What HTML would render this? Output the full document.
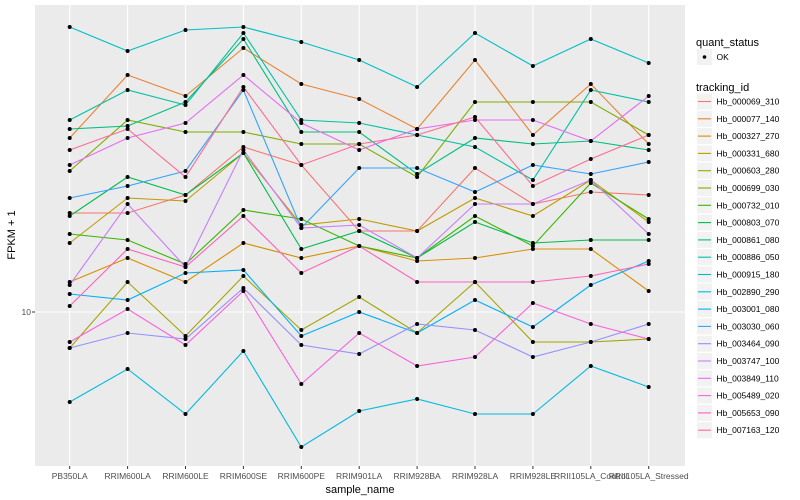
<!DOCTYPE html>
<html><head><meta charset="utf-8"><style>
body{margin:0;background:#fff;}
svg{display:block;font-family:"Liberation Sans",sans-serif;}
</style></head><body>
<svg id="chart" width="800" height="500"></svg>
<script>
const categories=["PB350LA","RRIM600LA","RRIM600LE","RRIM600SE","RRIM600PE","RRIM901LA","RRIM928BA","RRIM928LA","RRIM928LE","RRII105LA_Control","RRII105LA_Stressed"];
const seriesNames=["Hb_000069_310","Hb_000077_140","Hb_000327_270","Hb_000331_680","Hb_000603_280","Hb_000699_030","Hb_000732_010","Hb_000803_070","Hb_000861_080","Hb_000886_050","Hb_000915_180","Hb_002890_290","Hb_003001_080","Hb_003030_060","Hb_003464_090","Hb_003747_100","Hb_003849_110","Hb_005489_020","Hb_005653_090","Hb_007163_120"];
const seriesColors=["#F8766D","#EA8331","#D89000","#C09B00","#A3A500","#7CAE00","#39B600","#00BB4E","#00BF7D","#00C1A3","#00BFC4","#00BAE0","#00B0F6","#35A2FF","#9590FF","#C77CFF","#E76BF3","#FA62DB","#FF62BC","#FF6C91"];
// log10(FPKM + 1) values
const s069_310=[1.33,1.33,1.39,1.55,1.49,1.27,1.27,1.48,1.36,1.40,1.39];
const s077_140=[1.58,1.79,1.72,1.88,1.76,1.71,1.61,1.84,1.59,1.76,1.56];
const s327_270=[1.10,1.18,1.10,1.23,1.18,1.22,1.17,1.18,1.21,1.21,1.07];
const s331_680=[1.23,1.38,1.37,1.53,1.29,1.31,1.27,1.38,1.32,1.44,1.30];
const s603_280=[0.88,1.10,0.92,1.12,0.94,1.05,0.93,1.10,0.90,0.90,0.91];
const s699_030=[1.47,1.64,1.60,1.60,1.56,1.56,1.45,1.70,1.70,1.70,1.59];
const s732_010=[1.26,1.24,1.16,1.34,1.31,1.22,1.18,1.32,1.22,1.43,1.31];
const s803_070=[1.32,1.45,1.39,1.53,1.21,1.27,1.18,1.30,1.23,1.24,1.24];
const s861_080=[1.61,1.62,1.70,1.91,1.60,1.60,1.46,1.58,1.56,1.57,1.54];
const s886_050=[1.64,1.74,1.69,1.93,1.64,1.63,1.59,1.55,1.44,1.74,1.70];
const s915_180=[1.95,1.87,1.94,1.95,1.90,1.84,1.75,1.93,1.82,1.91,1.83];
const s2890_290=[0.70,0.81,0.66,0.87,0.55,0.67,0.71,0.66,0.66,0.82,0.75];
const s3001_080=[1.06,1.04,1.13,1.14,0.92,1.00,0.93,1.04,0.95,1.09,1.17];
const s3030_060=[1.38,1.42,1.47,1.74,1.28,1.48,1.48,1.40,1.49,1.46,1.50];
const s3464_090=[0.88,0.93,0.91,1.08,0.89,0.86,0.96,0.94,0.85,0.90,0.96];
const s3747_100=[1.09,1.36,1.15,1.54,1.28,1.29,1.18,1.36,1.36,1.44,1.26];
const s3849_110=[1.49,1.58,1.63,1.79,1.63,1.54,1.61,1.64,1.64,1.57,1.72];
const s5489_020=[0.90,1.01,0.89,1.07,0.76,0.93,0.82,0.85,1.03,0.96,0.91];
const s5653_090=[1.02,1.21,1.15,1.32,1.13,1.22,1.10,1.10,1.10,1.12,1.16];
const s7163_120=[1.54,1.61,1.45,1.75,1.49,1.56,1.59,1.65,1.42,1.51,1.59];
const seriesValues=[s069_310,s077_140,s327_270,s331_680,s603_280,s699_030,s732_010,s803_070,s861_080,s886_050,s915_180,s2890_290,s3001_080,s3030_060,s3464_090,s3747_100,s3849_110,s5489_020,s5653_090,s7163_120];
const yTickValues=[1];
const yTickLabels=["10"];

const NS="http://www.w3.org/2000/svg";
const svg=document.getElementById("chart");
const P={l:35,r:685,t:5,b:466};
function xPos(i){return 69.7+i*57.9;}
function yPos(v){return 312-(v-1)*300;}
function mk(tag,attrs,parent){const e=document.createElementNS(NS,tag);for(const k in attrs)e.setAttribute(k,attrs[k]);(parent||svg).appendChild(e);return e;}

const panel=mk("rect",{x:P.l,y:P.t,width:P.r-P.l,height:P.b-P.t,fill:"#EBEBEB"});



yTickValues.forEach((v,i)=>{
  const g=mk("line",{x1:P.l,x2:P.r,y1:yPos(v),y2:yPos(v),stroke:"#fff","stroke-width":1.1});
  
  
  const tk=mk("line",{x1:P.l-3,x2:P.l,y1:yPos(v),y2:yPos(v),stroke:"#333","stroke-width":1});
  
  
  const t=mk("text",{x:P.l-4,y:yPos(v)+3,"text-anchor":"end","font-size":"8.5",fill:"#4d4d4d"});
  t.textContent=yTickLabels[i];
  
  
});
categories.forEach((c,i)=>{
  const g=mk("line",{x1:xPos(i),x2:xPos(i),y1:P.t,y2:P.b,stroke:"#fff","stroke-width":1.1});
  
  
  const tk=mk("line",{x1:xPos(i),x2:xPos(i),y1:P.b,y2:P.b+3,stroke:"#333","stroke-width":1});
  
  
  const t=mk("text",{x:xPos(i),y:479,"text-anchor":"middle","font-size":"8.5",fill:"#4d4d4d"});
  t.textContent=c;
  
  
});

seriesValues.forEach((vals,s)=>{
  const d=vals.map((v,i)=>(i?"L":"M")+xPos(i).toFixed(1)+","+yPos(v).toFixed(1)).join(" ");
  const p=mk("path",{d:d,fill:"none",stroke:seriesColors[s],"stroke-width":1.1});
  
  
});
seriesValues.forEach((vals,s)=>{
  vals.forEach((v,i)=>{
    const c=mk("circle",{cx:xPos(i),cy:yPos(v),r:2,fill:"#000"});
    
    
  });
});

const xt=mk("text",{x:360,y:493,"text-anchor":"middle","font-size":"11",fill:"#000"});
xt.textContent="sample_name";


const yt=mk("text",{x:15,y:235,"text-anchor":"middle","font-size":"11",fill:"#000",transform:"rotate(-90 15 235)"});
yt.textContent="FPKM + 1";



const qt=mk("text",{x:696,y:46,"font-size":"11",fill:"#000"});
qt.textContent="quant_status";


const okBox=mk("rect",{x:697,y:49,width:15,height:16,fill:"#F2F2F2"});


const okDot=mk("circle",{cx:704.5,cy:57,r:1.8,fill:"#000"});


const okT=mk("text",{x:716.5,y:60,"font-size":"8.5",fill:"#000"});
okT.textContent="OK";



const tt=mk("text",{x:696,y:91,"font-size":"11",fill:"#000"});
tt.textContent="tracking_id";


seriesNames.forEach((n,s)=>{
  const cy=101.5+s*17.3;
  const b=mk("rect",{x:697,y:cy-8,width:15,height:16,fill:"#F2F2F2"});
  
  
  const l=mk("line",{x1:698,x2:711,y1:cy,y2:cy,stroke:seriesColors[s],"stroke-width":1.1});
  
  
  const t=mk("text",{x:716.5,y:cy+3,"font-size":"8.5",fill:"#000"});
  t.textContent=n;
  
  
});
</script>
</body></html>
